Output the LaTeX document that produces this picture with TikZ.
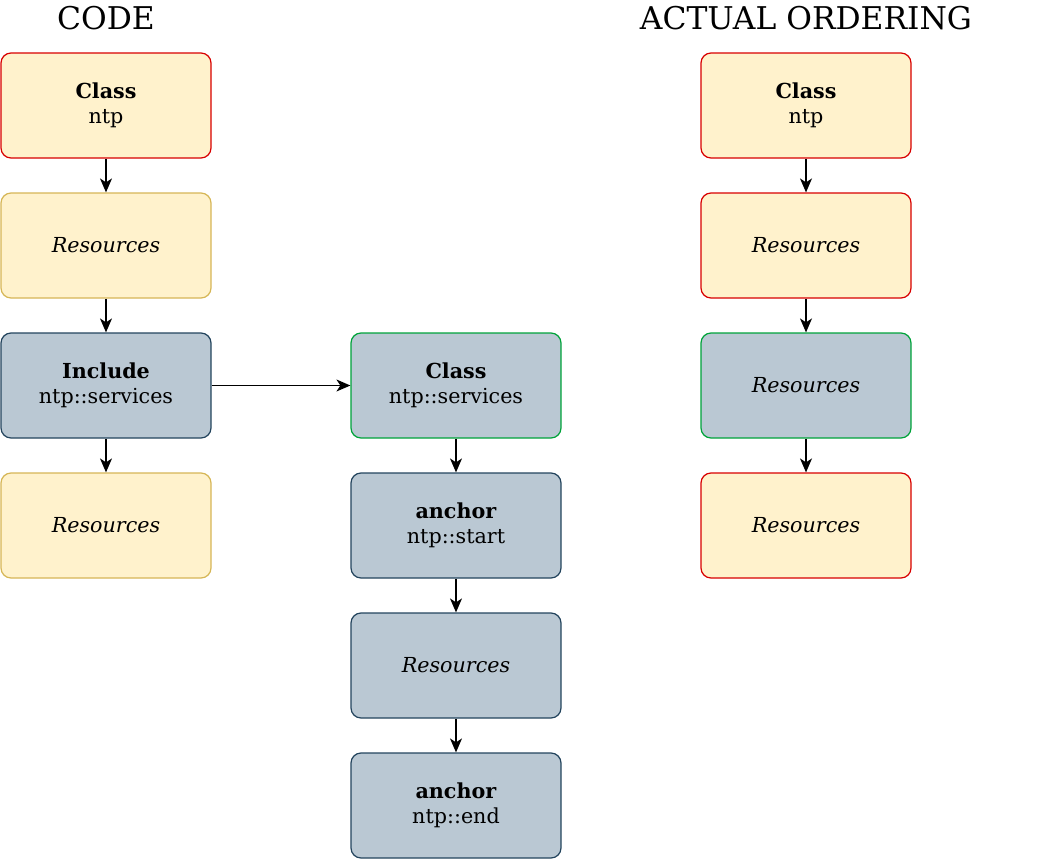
\documentclass[tikz,border=0pt]{standalone}
\usepackage{fontspec}
\setmainfont{DejaVu Serif}
\usetikzlibrary{arrows.meta}

\definecolor{yelfill}{HTML}{FFF2CC}
\definecolor{yelline}{HTML}{D6B656}
\definecolor{redline}{HTML}{D80000}
\definecolor{bluefill}{HTML}{BAC8D3}
\definecolor{blueline}{HTML}{23445D}
\definecolor{greenline}{HTML}{00A33A}

\tikzset{box/.style={draw, rounded corners=7.5pt, line width=0.9pt,
    minimum width=157.5pt, minimum height=78.75pt, align=center,
    font=\fontsize{15.5}{18.75}\selectfont},
  ybox/.style={box, fill=yelfill, draw=yelline},
  bbox/.style={box, fill=bluefill, draw=blueline},
  title/.style={anchor=base, font=\fontsize{23.5}{28}\selectfont},
  arr/.style={draw, line width=1pt, -{Stealth[length=10.5pt,width=9pt,inset=3pt]}}}

\begin{document}
\begin{tikzpicture}[x=0.75pt,y=-0.75pt]
\useasboundingbox (0,0) rectangle (1061,860);
%titles
\node[title] (codet) at (106,30) {CODE};
\node[title] (actt) at (806,30) {ACTUAL ORDERING};

%code column
\node[ybox, draw=redline] (cls) at (106,105.5) {\textbf{Class}\\ntp};
\node[ybox] (res1) at (106,245.5) {\textit{Resources}};
\node[bbox] (inc) at (106,385.5) {\textbf{Include}\\ntp::services};
\node[ybox] (res2) at (106,525.5) {\textit{Resources}};

%included class
\node[bbox, draw=greenline] (svc) at (456,385.5) {\textbf{Class}\\ntp::services};
\node[bbox] (ancs) at (456,525.5) {\textbf{anchor}\\ntp::start};
\node[bbox] (res3) at (456,665.5) {\textit{Resources}};
\node[bbox] (ance) at (456,805.5) {\textbf{anchor}\\ntp::end};

%actual ordering
\node[ybox, draw=redline] (acls) at (806,105.5) {\textbf{Class}\\ntp};
\node[ybox, draw=redline] (ares1) at (806,245.5) {\textit{Resources}};
\node[bbox, draw=greenline] (ares2) at (806,385.5) {\textit{Resources}};
\node[ybox, draw=redline] (ares3) at (806,525.5) {\textit{Resources}};

%arrows
\path[arr] (cls) -- (res1);
\path[arr] (res1) -- (inc);
\path[arr] (inc) -- (res2);
\path[arr] (inc) -- (svc);
\path[arr] (svc) -- (ancs);
\path[arr] (ancs) -- (res3);
\path[arr] (res3) -- (ance);
\path[arr] (acls) -- (ares1);
\path[arr] (ares1) -- (ares2);
\path[arr] (ares2) -- (ares3);
\end{tikzpicture}
\end{document}
